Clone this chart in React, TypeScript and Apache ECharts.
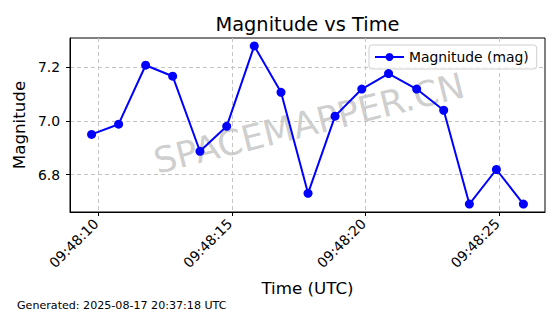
import React, { useEffect, useRef } from "react";
import * as echarts from "echarts";

const times = [
  "09:48:09.76", "09:48:10.77", "09:48:11.78", "09:48:12.79", "09:48:13.81",
  "09:48:14.81", "09:48:15.84", "09:48:16.84", "09:48:17.85", "09:48:18.86",
  "09:48:19.86", "09:48:20.86", "09:48:21.91", "09:48:22.92", "09:48:23.88",
  "09:48:24.89", "09:48:25.90",
];
const magnitudes = [
  6.95, 6.988, 7.208, 7.167, 6.887, 6.98, 7.28, 7.107, 6.73, 7.018,
  7.119, 7.177, 7.119, 7.04, 6.69, 6.819, 6.69,
];
const xTickValues = [10, 15, 20, 25];
const xTickLabels = ["09:48:10", "09:48:15", "09:48:20", "09:48:25"];
const yTickValues = [6.8, 7.0, 7.2];
const yTickLabels = ["6.8", "7.0", "7.2"];

const FONT = "'DejaVu Sans', sans-serif";

function toSec(t: string): number {
  const [h, m, s] = t.split(":");
  return parseFloat(s) + (parseInt(m, 10) - 48) * 60 + (parseInt(h, 10) - 9) * 3600;
}

export default function App() {
  const ref = useRef<HTMLDivElement>(null);
  useEffect(() => {
    if (!ref.current) return;
    const chart = echarts.init(ref.current, undefined, { renderer: "svg" });
    const xs = times.map(toSec);
    const xMin = Math.min(...xs), xMax = Math.max(...xs);
    const xPad = (xMax - xMin) * 0.05;
    const yMinD = Math.min(...magnitudes), yMaxD = Math.max(...magnitudes);
    const yPad = (yMaxD - yMinD) * 0.05;
    const gridLine = { show: true, lineStyle: { color: "#c4c4c4", type: [4, 3] as any, width: 1 } };
    chart.setOption({
      animation: false,
      grid: {
        left: 70, top: 38, right: 15, bottom: 102,
        show: true, borderColor: "#000", borderWidth: 1, backgroundColor: "transparent",
      },
      legend: {
        left: 369, top: 45,
        padding: [5, 8, 5, 5],
        itemWidth: 29, itemHeight: 10, itemGap: 10,
        borderColor: "#d0d0d0", borderWidth: 1, borderRadius: 3,
        backgroundColor: "rgba(255,255,255,0.8)",
        textStyle: { fontFamily: FONT, fontSize: 13.9, color: "#000" },
        data: ["Magnitude (mag)"],
      },
      xAxis: {
        type: "value",
        min: xMin - xPad, max: xMax + xPad,
        name: "Time (UTC)", nameLocation: "middle", nameGap: 67,
        nameTextStyle: { fontFamily: FONT, fontSize: 16.7, color: "#000" },
        axisLine: { show: true, lineStyle: { color: "#000", width: 1 } },
        axisTick: { show: true, length: 4, lineStyle: { color: "#000" }, customValues: xTickValues },
        axisLabel: {
          customValues: xTickValues, rotate: 45, margin: 7,
          padding: [0, 3, 4, 0],
          fontFamily: FONT, fontSize: 13.9, color: "#000",
          formatter: (v: number) => {
            const i = xTickValues.findIndex((t) => Math.abs(t - v) < 1e-6);
            return i >= 0 ? xTickLabels[i] : "";
          },
        },
        splitLine: gridLine,
      },
      yAxis: {
        type: "value",
        min: yMinD - yPad, max: yMaxD + yPad,
        name: "Magnitude", nameLocation: "middle", nameGap: 28, nameRotate: 90,
        nameTextStyle: { fontFamily: FONT, fontSize: 16.7, color: "#000" },
        axisLine: { show: true, lineStyle: { color: "#000", width: 1 } },
        axisTick: { show: true, length: 4, lineStyle: { color: "#000" }, customValues: yTickValues },
        axisLabel: {
          customValues: yTickValues, margin: 10,
          fontFamily: FONT, fontSize: 13.9, color: "#000",
          formatter: (v: number) => {
            const i = yTickValues.findIndex((t) => Math.abs(t - v) < 1e-6);
            return i >= 0 ? yTickLabels[i] : "";
          },
        },
        splitLine: gridLine,
      },
      graphic: [
        {
          type: "text", x: 307.5, y: 24, z: 10,
          style: {
            text: "Magnitude vs Time", font: `19.4px ${FONT}`, fill: "#000",
            align: "center", verticalAlign: "middle",
            textAlign: "center", textVerticalAlign: "middle",
          },
        },
        {
          type: "text", x: 17, y: 305, z: 10,
          style: {
            text: "Generated: 2025-08-17 20:37:18 UTC", font: `11.1px ${FONT}`, fill: "#000",
            align: "left", verticalAlign: "middle",
            textAlign: "left", textVerticalAlign: "middle",
          },
        },
        {
          type: "text", x: 309, y: 123, z: 0, rotation: (14 * Math.PI) / 180,
          style: {
            text: "SPACEMAPPER.CN", font: `35.5px ${FONT}`, fill: "rgba(128,128,128,0.4)",
            align: "center", verticalAlign: "middle",
            textAlign: "center", textVerticalAlign: "middle",
          },
        },
      ],
      series: [
        {
          name: "Magnitude (mag)",
          type: "line",
          data: xs.map((x, i) => [x, magnitudes[i]]),
          symbol: "circle", symbolSize: 9,
          lineStyle: { color: "#0000ff", width: 2 },
          itemStyle: { color: "#0000ff" },
          z: 5,
        },
      ],
    });
    return () => chart.dispose();
  }, []);
  return <div ref={ref} style={{ position: "absolute", left: 0, top: 0, width: 560, height: 314 }} />;
}
